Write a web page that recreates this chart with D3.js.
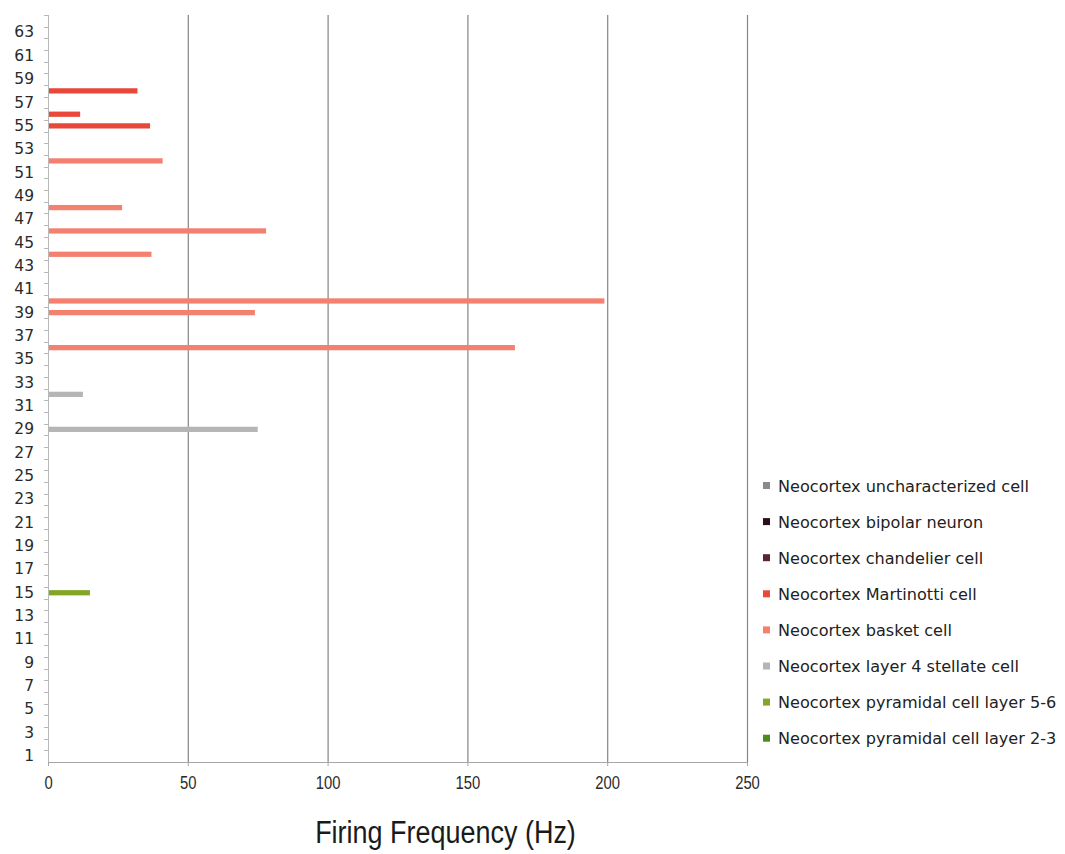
<!DOCTYPE html>
<html>
<head>
<meta charset="utf-8">
<script src="https://cdn.jsdelivr.net/npm/d3@7"></script>
<style>
  html, body { margin: 0; padding: 0; background: #fff; }
  svg { display: block; }
</style>
</head>
<body>
<svg id="chart" width="1065" height="854"></svg>
<script>
// ---- data ----
const categories = [1,2,3,4,5,6,7,8,9,10,11,12,13,14,15,16,17,18,19,20,21,22,23,24,25,26,27,28,29,30,31,32,
  33,34,35,36,37,38,39,40,41,42,43,44,45,46,47,48,49,50,51,52,53,54,55,56,57,58,59,60,61,62,63,64];
const yTickLabels = [1,3,5,7,9,11,13,15,17,19,21,23,25,27,29,31,33,35,37,39,41,43,45,47,49,51,53,55,57,59,61,63];
const xTickValues = [0, 50, 100, 150, 200, 250];

const seriesNames = [
  "Neocortex uncharacterized cell",
  "Neocortex bipolar neuron",
  "Neocortex chandelier cell",
  "Neocortex Martinotti cell",
  "Neocortex basket cell",
  "Neocortex layer 4 stellate cell",
  "Neocortex pyramidal cell layer 5-6",
  "Neocortex pyramidal cell layer 2-3"
];
const seriesColors = ["#8a8a8a", "#2b0f1a", "#5b2333", "#e8473a", "#f4806f", "#b5b5b5", "#84a626", "#4d8a22"];

// bars: category, firing frequency (Hz), series
const barCategory = [15, 29, 32, 36, 39, 40, 44, 46, 48, 52, 55, 56, 58];
const barValue    = [15, 75, 12.5, 167, 74, 199, 37, 78, 26.5, 41, 36.5, 11.5, 32];
const barSeries   = [
  "Neocortex pyramidal cell layer 5-6",
  "Neocortex layer 4 stellate cell",
  "Neocortex layer 4 stellate cell",
  "Neocortex basket cell",
  "Neocortex basket cell",
  "Neocortex basket cell",
  "Neocortex basket cell",
  "Neocortex basket cell",
  "Neocortex basket cell",
  "Neocortex basket cell",
  "Neocortex Martinotti cell",
  "Neocortex Martinotti cell",
  "Neocortex Martinotti cell"
];
const xTitle = "Firing Frequency (Hz)";

// ---- layout ----
const mLeft = 48, mRight = 747, mTop = 15, mBottom = 762;
const svg = d3.select("#chart");

const x = d3.scaleLinear().domain([0, 250]).range([mLeft, mRight]);
const y = d3.scaleBand().domain(categories.slice().reverse()).range([mTop, mBottom])
  .paddingInner(0.55).paddingOuter(0.275);
const color = d3.scaleOrdinal().domain(seriesNames).range(seriesColors);

// gridlines
svg.append("g").selectAll("line").data(xTickValues.filter(v => v > 0)).join("line")
  .attr("x1", d => x(d) + 0.5).attr("x2", d => x(d) + 0.5)
  .attr("y1", mTop).attr("y2", mBottom)
  .attr("stroke", "#858585").attr("stroke-width", 1.2);

// minor ticks on y axis at category boundaries
const step = y.step();
svg.append("g").selectAll("line").data(categories).join("line")
  .attr("x1", mLeft - 4).attr("x2", mLeft)
  .attr("y1", d => Math.round(y(d) - (step - y.bandwidth()) / 2) + 0.5)
  .attr("y2", d => Math.round(y(d) - (step - y.bandwidth()) / 2) + 0.5)
  .attr("stroke", "#b8b8b8").attr("stroke-width", 1);

// bars
const bars = barCategory.map((c, i) => ({ c, v: barValue[i], s: barSeries[i] }));
svg.append("g").selectAll("rect").data(bars).join("rect")
  .attr("x", x(0))
  .attr("y", d => y(d.c))
  .attr("width", d => x(d.v) - x(0))
  .attr("height", y.bandwidth())
  .attr("fill", d => color(d.s));

// y axis
const yAxis = d3.axisLeft(y).tickValues(yTickLabels).tickSize(0).tickPadding(14);
const gy = svg.append("g").attr("transform", `translate(${mLeft},0)`).call(yAxis);
gy.select(".domain").attr("stroke", "#b8b8b8").attr("d", `M0.5,${mTop}V${mBottom}`);
gy.selectAll("text").attr("font-family", "DejaVu Sans, sans-serif").attr("font-size", 15.5)
  .attr("fill", "#2a2a2a");

// x axis
const xAxis = d3.axisBottom(x).tickValues(xTickValues).tickSize(4).tickPadding(10);
const gx = svg.append("g").attr("transform", `translate(0,${mBottom})`).call(xAxis);
gx.select(".domain").attr("stroke", "#a6a6a6").attr("d", `M${mLeft},0.5H${mRight + 1}`);
gx.selectAll(".tick line").attr("stroke", "#a6a6a6");
gx.selectAll("text").attr("font-family", "Liberation Sans, Arial, sans-serif")
  .attr("font-size", 19).attr("fill", "#2a2a2a")
  .attr("transform", "scale(0.78,1)");

// x title
svg.append("text")
  .attr("transform", `translate(${(x(0) + x(250)) / 2 + 48},843) scale(0.87,1)`)
  .attr("text-anchor", "middle")
  .attr("font-family", "Liberation Sans, Arial, sans-serif")
  .attr("font-size", 31).attr("fill", "#1a1a1a")
  .text(xTitle);

// legend
const legend = svg.append("g").attr("transform", "translate(763,486)");
const li = legend.selectAll("g").data(seriesNames).join("g")
  .attr("transform", (d, i) => `translate(0,${i * 36.1})`);
li.append("rect").attr("x", 0).attr("y", -4).attr("width", 7).attr("height", 7)
  .attr("fill", d => color(d));
li.append("text").attr("x", 15).attr("y", 0).attr("dy", "0.35em")
  .attr("font-family", "DejaVu Sans, sans-serif").attr("font-size", 16.1)
  .attr("fill", "#222").text(d => d);
</script>
</body>
</html>
